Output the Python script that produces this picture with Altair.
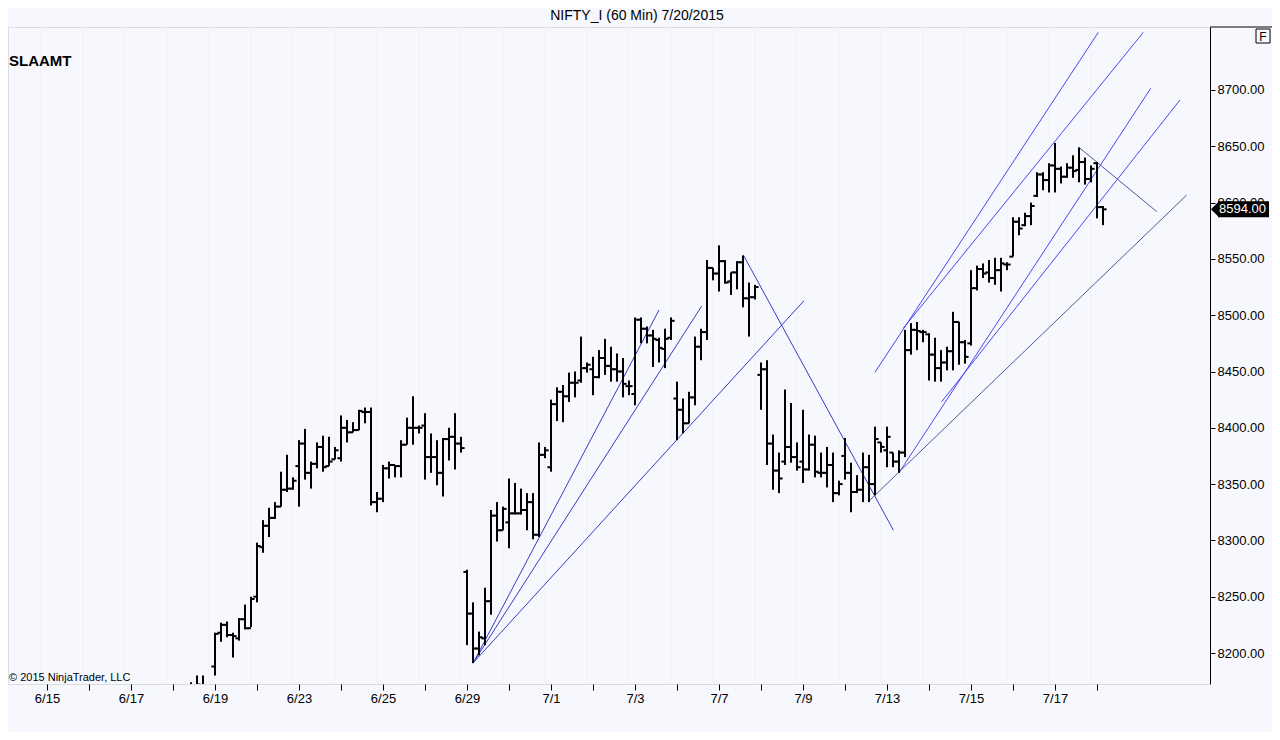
import altair as alt
import pandas as pd

FONT = "Liberation Sans"

# trading days shown on the x axis (7 hourly bars per day)
days = ["6/15", "6/16", "6/17", "6/18", "6/19", "6/22", "6/23", "6/24", "6/25", "6/26",
        "6/29", "6/30", "7/1", "7/2", "7/3", "7/6", "7/7", "7/8", "7/9", "7/10",
        "7/13", "7/14", "7/15", "7/16", "7/17", "7/20"]
BARS_PER_DAY = 7
first_bar = 24  # first visible hourly bar (6/18)

opens = [
    8160, 8165, 8170, 8168,
    8188, 8218, 8225, 8216, 8213, 8230, 8222,
    8250, 8294, 8313, 8320, 8330, 8345, 8346,
    8366, 8386, 8360, 8368, 8383, 8366, 8372,
    8373, 8400, 8396, 8398, 8414, 8414, 8334,
    8337, 8364, 8367, 8366, 8385, 8400, 8400,
    8402, 8374, 8374, 8360, 8390, 8392, 8386,
    8272, 8235, 8204, 8213, 8246, 8322, 8309,
    8316, 8324, 8324, 8327, 8334, 8305, 8376,
    8365, 8421, 8432, 8428, 8440, 8442, 8453,
    8452, 8445, 8462, 8455, 8452, 8450, 8437,
    8430, 8496, 8488, 8482, 8478, 8470, 8480,
    8426, 8416, 8404, 8427, 8472, 8485, 8542,
    8537, 8548, 8530, 8538, 8547, 8515, 8516,
    8447, 8452, 8386, 8362, 8370, 8383, 8374,
    8370, 8363, 8385, 8360, 8360, 8367, 8342,
    8375, 8360, 8343, 8345, 8365, 8350, 8387,
    8380, 8378, 8370, 8378, 8469, 8487, 8485,
    8483, 8465, 8453, 8458, 8468, 8494, 8476,
    8475, 8524, 8541, 8538, 8533, 8540, 8545,
    8552, 8583, 8580, 8588, 8606, 8625, 8620,
    8633, 8630, 8623, 8631, 8629, 8636, 8621,
    8635, 8596,
]
highs = [
    8174, 8180, 8180, 8170,
    8218, 8227, 8228, 8218, 8231, 8243, 8250,
    8298, 8318, 8329, 8334, 8361, 8376, 8356,
    8389, 8399, 8370, 8387, 8393, 8392, 8383,
    8411, 8407, 8405, 8416, 8418, 8418, 8343,
    8367, 8370, 8367, 8389, 8409, 8428, 8402,
    8413, 8395, 8389, 8391, 8400, 8413, 8392,
    8274, 8245, 8219, 8258, 8327, 8334, 8330,
    8355, 8351, 8346, 8342, 8342, 8387, 8383,
    8425, 8436, 8438, 8449, 8450, 8481, 8458,
    8463, 8469, 8479, 8472, 8466, 8462, 8442,
    8498, 8498, 8490, 8487, 8480, 8488, 8498,
    8441, 8426, 8432, 8481, 8488, 8549, 8542,
    8562, 8549, 8538, 8548, 8553, 8529, 8527,
    8458, 8460, 8394, 8378, 8434, 8422, 8387,
    8416, 8394, 8393, 8378, 8383, 8378, 8353,
    8391, 8369, 8358, 8378, 8376, 8401, 8387,
    8401, 8378, 8380, 8487, 8493, 8494, 8487,
    8484, 8480, 8469, 8472, 8503, 8494, 8478,
    8540, 8544, 8546, 8549, 8551, 8551, 8547,
    8587, 8587, 8591, 8600, 8627, 8627, 8635,
    8653, 8632, 8635, 8642, 8649, 8640, 8633,
    8636, 8597,
]
lows = [
    8148, 8155, 8160, 8158,
    8180, 8210, 8214, 8196, 8211, 8221, 8223,
    8245, 8289, 8303, 8319, 8330, 8343, 8345,
    8330, 8354, 8346, 8364, 8361, 8366, 8372,
    8370, 8387, 8396, 8398, 8404, 8331, 8325,
    8334, 8355, 8356, 8356, 8385, 8385, 8395,
    8354, 8360, 8349, 8339, 8371, 8363, 8378,
    8207, 8191, 8198, 8207, 8234, 8299, 8309,
    8293, 8323, 8323, 8309, 8301, 8303, 8373,
    8361, 8406, 8405, 8423, 8427, 8440, 8449,
    8429, 8444, 8447, 8441, 8441, 8427, 8429,
    8420, 8475, 8475, 8454, 8458, 8453, 8478,
    8389, 8395, 8404, 8420, 8460, 8478, 8531,
    8521, 8528, 8518, 8523, 8507, 8481, 8514,
    8416, 8367, 8345, 8342, 8367, 8369, 8362,
    8351, 8362, 8356, 8356, 8347, 8334, 8340,
    8354, 8325, 8342, 8334, 8334, 8340, 8378,
    8365, 8365, 8360, 8374, 8465, 8469, 8476,
    8442, 8441, 8441, 8451, 8451, 8456, 8457,
    8473, 8522, 8533, 8529, 8527, 8521, 8540,
    8552, 8571, 8579, 8580, 8605, 8611, 8609,
    8609, 8617, 8622, 8622, 8618, 8616, 8618,
    8586, 8580,
]
closes = [
    8170, 8172, 8168, 8165,
    8217, 8225, 8216, 8215, 8230, 8222, 8248,
    8295, 8313, 8320, 8330, 8345, 8346, 8353,
    8386, 8360, 8368, 8383, 8365, 8370, 8380,
    8400, 8396, 8398, 8415, 8414, 8334, 8337,
    8364, 8367, 8366, 8385, 8400, 8400, 8400,
    8374, 8374, 8360, 8390, 8392, 8386, 8382,
    8235, 8204, 8214, 8246, 8322, 8309, 8328,
    8324, 8324, 8327, 8334, 8305, 8376, 8380,
    8421, 8432, 8428, 8440, 8440, 8453, 8456,
    8445, 8462, 8455, 8452, 8450, 8439, 8437,
    8496, 8488, 8482, 8479, 8471, 8479, 8495,
    8416, 8404, 8427, 8472, 8485, 8542, 8537,
    8548, 8529, 8538, 8547, 8515, 8516, 8525,
    8452, 8386, 8362, 8355, 8383, 8374, 8365,
    8363, 8385, 8361, 8360, 8367, 8342, 8350,
    8360, 8343, 8345, 8365, 8350, 8390, 8383,
    8392, 8370, 8378, 8469, 8487, 8486, 8485,
    8465, 8453, 8458, 8468, 8494, 8476, 8463,
    8524, 8541, 8537, 8533, 8540, 8546, 8545,
    8583, 8577, 8588, 8597, 8625, 8620, 8633,
    8630, 8623, 8631, 8628, 8636, 8621, 8630,
    8596, 8594,
]

# hand-drawn trend lines (bar index, price) -> (bar index, price)
line_i1 = [71.05, 71.05, 71.05, 116.05, 138.0, 142.72, 142.05, 149.12, 137.17, 172.05]
line_p1 = [8191.4, 8191.4, 8191.4, 8553.5, 8449.3, 8488.4, 8360.5, 8423.2, 8335.9, 8648.8]
line_i2 = [102.0, 109.12, 126.17, 141.05, 175.22, 182.72, 183.95, 188.83, 189.95, 184.95]
line_p2 = [8504.6, 8508.2, 8512.9, 8309.2, 8751.2, 8751.2, 8701.5, 8691.1, 8606.7, 8592.0]
line_color = ["#3a3ac4", "#3a3ac4", "#3a3ac4", "#3a3ac4",
              "#4848ee", "#4848ee", "#4848ee", "#4848ee",
              "#55559c", "#55559c"]

y_ticks = list(range(8200, 8701, 50))

bars = pd.DataFrame({
    "i": list(range(first_bar, first_bar + len(opens))),
    "o": opens, "h": highs, "l": lows, "c": closes,
})
lines = pd.DataFrame({"i1": line_i1, "p1": line_p1, "i2": line_i2, "p2": line_p2, "col": line_color})
grid = pd.DataFrame({"g": [BARS_PER_DAY * d - 1 for d in range(len(days))]})

label_arr = "[" + ",".join("'%s'" % (d if k % 2 == 0 else "") for k, d in enumerate(days)) + "]"

x_scale = alt.Scale(domain=[-6.5, 193.8333], nice=False, zero=False)
y_scale = alt.Scale(domain=[8172.47, 8755.95], nice=False, zero=False)

x_axis = alt.Axis(values=[BARS_PER_DAY * d for d in range(len(days))],
                  labelExpr=label_arr + "[round(datum.value/7)]",
                  tickSize=6, tickColor="black", domain=False, grid=False,
                  labelPadding=2, labelFontSize=13, labelColor="black", labelFont=FONT,
                  labelOverlap=False, labelFlush=False, title=None)
y_axis = alt.Axis(orient="right", values=y_ticks, format=".2f", tickSize=5, tickColor="black",
                  domain=True, domainColor="black", grid=False, labelPadding=2,
                  labelFontSize=13, labelColor="black", labelFont=FONT, labelOverlap=False,
                  labelFlush=False, title=None)

X = lambda f: alt.X(f, scale=x_scale, axis=x_axis)
Y = lambda f: alt.Y(f, scale=y_scale, axis=y_axis)

gridlines = alt.Chart(grid).mark_rule(color="#eef1f7", strokeWidth=1).encode(x=X("g:Q"))

hl = alt.Chart(bars).mark_rule(color="black", strokeWidth=2, clip=True).encode(
    x=X("i:Q"), y=Y("l:Q"), y2="h:Q")
op = alt.Chart(bars).transform_calculate(a="datum.i - 0.6").mark_rule(
    color="black", strokeWidth=2, clip=True).encode(x=X("a:Q"), x2="i:Q", y=Y("o:Q"))
cl = alt.Chart(bars).transform_calculate(b="datum.i + 0.6").mark_rule(
    color="black", strokeWidth=2, clip=True).encode(x=X("i:Q"), x2="b:Q", y=Y("c:Q"))

trend = alt.Chart(lines).mark_rule(strokeWidth=1, clip=True).encode(
    x=X("i1:Q"), y=Y("p1:Q"), x2="i2:Q", y2="p2:Q",
    color=alt.Color("col:N", scale=None))

title = alt.Chart(pd.DataFrame({"t": ["NIFTY_I (60 Min)  7/20/2015"]})).mark_text(
    font=FONT, fontSize=14, color="black", align="center", baseline="middle").encode(
    x=alt.value(629), y=alt.value(-11), text="t:N")
top_line = alt.Chart(pd.DataFrame({"t": [0]})).mark_rule(color="black", strokeWidth=1).encode(
    x=alt.value(1202), x2=alt.value(1264), y=alt.value(0))
name = alt.Chart(pd.DataFrame({"t": ["SLAAMT"]})).mark_text(
    font=FONT, fontSize=15, fontWeight="bold", color="black", align="left", baseline="middle").encode(
    x=alt.value(1), y=alt.value(34), text="t:N")
copy = alt.Chart(pd.DataFrame({"t": ["© 2015 NinjaTrader, LLC"]})).mark_text(
    font=FONT, fontSize=11, color="black", align="left", baseline="middle").encode(
    x=alt.value(1), y=alt.value(651), text="t:N")

fbox = alt.Chart(pd.DataFrame({"t": ["F"]})).mark_point(
    shape="square", size=196, filled=False, color="black", strokeWidth=1, opacity=1).encode(
    x=alt.value(1255), y=alt.value(9))
ftext = alt.Chart(pd.DataFrame({"t": ["F"]})).mark_text(
    font=FONT, fontSize=12, color="black", align="center", baseline="middle").encode(
    x=alt.value(1255), y=alt.value(9.5), text="t:N")

last = pd.DataFrame({"p": [closes[-1]]})
pbox = alt.Chart(last).mark_rule(color="black", strokeWidth=16).encode(
    x=alt.value(1210), x2=alt.value(1261), y=Y("p:Q"))
parrow = alt.Chart(last).mark_point(shape="M-0.5,0L0.5,-1L0.5,1Z", size=256, filled=True,
                                    color="black", opacity=1).encode(
    x=alt.value(1207), y=Y("p:Q"))
ptext = alt.Chart(last).mark_text(font=FONT, fontSize=13, color="white", align="left",
                                  baseline="middle").encode(
    x=alt.value(1211), y=Y("p:Q"), text=alt.Text("p:Q", format=".2f"))

chart = alt.layer(
    gridlines, trend, hl, op, cl, title, top_line, name, copy, fbox, ftext, pbox, parrow, ptext
).properties(
    width=1202, height=657,
    autosize=alt.AutoSizeParams(type="none"),
    padding={"left": 0, "top": 19, "right": 62, "bottom": 48},
    background="#f6f8fd",
).configure_view(stroke="black", strokeWidth=1).configure(font=FONT)

chart.save("out.html", embed_options={"renderer": "svg", "actions": False})
